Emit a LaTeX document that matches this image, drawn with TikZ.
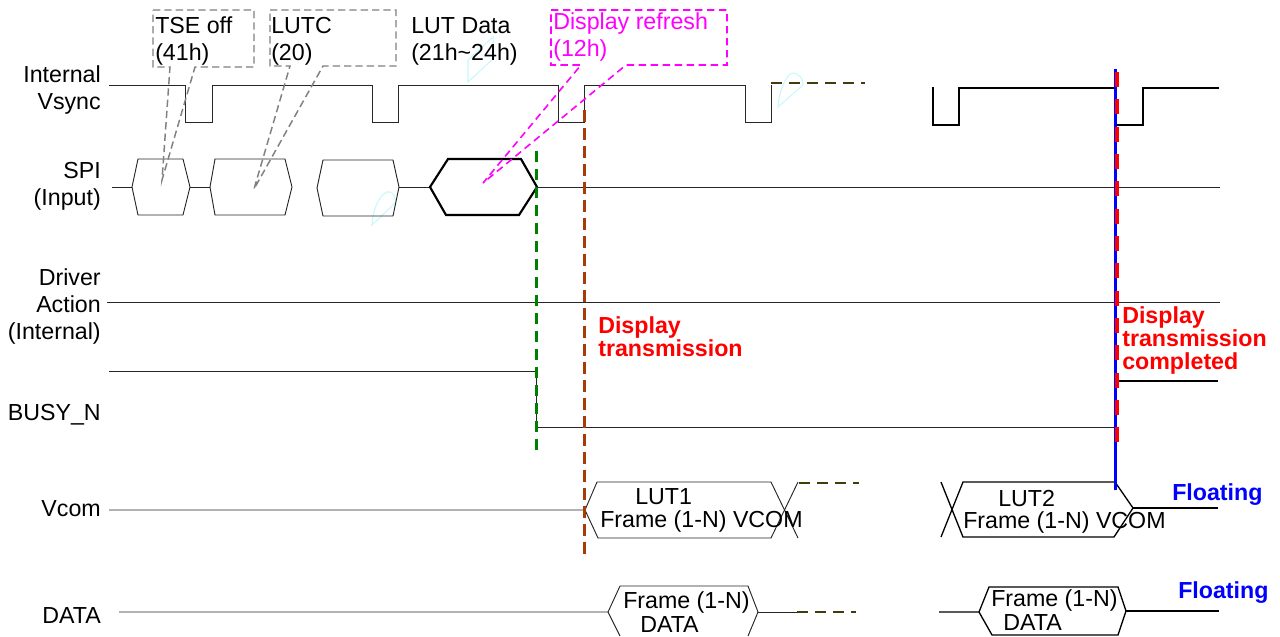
\documentclass[tikz,border=0pt]{standalone}
\usepackage{fontspec}
\setmainfont{Liberation Sans}
\definecolor{olivedash}{HTML}{403C0C}
\definecolor{markbrown}{HTML}{A63C06}
\definecolor{markgreen}{HTML}{008000}
\definecolor{stray}{HTML}{C8F8FC}
\definecolor{notepink}{HTML}{FF00FF}
\definecolor{fullblue}{HTML}{0000FF}
\definecolor{fullred}{HTML}{FF0000}
\tikzstyle{wave} = [draw=black!85, line width=0.7pt, line join=miter]
\tikzstyle{boldwave} = [draw=black, line width=1.3pt, line join=miter]
\tikzstyle{stopdash} = [draw=olivedash, line width=1.5pt, dash pattern=on 8pt off 5.5pt]
\tikzstyle{graynote} = [draw=black!50, line width=1.1pt, dash pattern=on 5.5pt off 3pt]
\tikzstyle{pinknote} = [draw=notepink, line width=1.2pt, dash pattern=on 5.5pt off 3.5pt]
\tikzstyle{strayleaf} = [draw=stray, line width=0.8pt]
\tikzstyle{lbl} = [inner sep=0pt, font=\fontsize{17.4}{20.25}\selectfont]
\tikzstyle{siglbl} = [lbl, anchor=east, align=right]
\tikzstyle{txtlbl} = [lbl, anchor=west, align=left]
\tikzstyle{redlbl} = [inner sep=0pt, anchor=west, align=left, text=fullred, font=\fontsize{17.4}{17.25}\selectfont\bfseries]
\tikzstyle{bluelbl} = [inner sep=0pt, anchor=west, text=fullblue, font=\fontsize{17.4}{17.25}\selectfont\bfseries]
\begin{document}
\begin{tikzpicture}[x=0.75pt,y=-0.75pt]
    \useasboundingbox (0,0) rectangle (1280,636);
    \draw[strayleaf] (468,82) -- (468,60) -- (493,37) -- (494,58) -- cycle;
    \draw[strayleaf] (372,225) .. controls (373,205) and (383,190) .. (390,192) .. controls (394,193) and (396,198) .. (395,203) -- cycle;
    \draw[strayleaf] (778,107) .. controls (779,90) and (787,73) .. (793,73) .. controls (799,73) and (804,80) .. (803,85) -- cycle;

    \draw[wave] (109,85) -- (185,85) -- (185,122) -- (212,122) -- (212,85) -- (372,85) -- (372,122) -- (398,122) -- (398,85) -- (558,85) -- (558,122) -- (584,122) -- (584,85) -- (745,85) -- (745,122) -- (771,122) -- (771,85);
    \draw[stopdash] (771,82.5) -- (865,82.5);
    \draw[boldwave] (933,87) -- (933,125) -- (959,125) -- (959,88) -- (1116,88);
    \draw[boldwave] (1117,125) -- (1143,125) -- (1143,88) -- (1219,88);

    \draw[wave] (112,187) -- (132,187);
    \draw[wave] (132,187) -- (138,159) -- (183,159) -- (190,187) -- (183,215) -- (138,215) -- cycle;
    \draw[wave] (190,187) -- (210,187);
    \draw[wave] (210,187) -- (215,159) -- (285,159) -- (292,187) -- (285,215) -- (215,215) -- cycle;
    \draw[wave] (317,188) -- (323,160) -- (393,160) -- (399,187) -- (393,216) -- (323,216) -- cycle;
    \draw[wave] (399,187) -- (430,187);
    \draw[boldwave, line width=1.6pt] (430,187) -- (448,159) -- (521,159) -- (537,187) -- (519,215) -- (446,215) -- cycle;
    \draw[wave] (537,187) -- (1220,187);

    \draw[wave] (107,302) -- (1220,302);
    \draw[wave] (109,371) -- (536,371) -- (536,427) -- (1115,427);
    \draw[boldwave] (1118,381) -- (1218,381);

    \draw[wave] (109,510) -- (585,510) -- (597,482) -- (771,482) -- (798,538);
    \draw[wave] (585,510) -- (598,538) -- (771,538) -- (798,482);
    \draw[stopdash] (799,483) -- (859,483);
    \draw[boldwave, line width=1pt] (941,482) -- (963,537) -- (1114,537) -- (1133,508);
    \draw[boldwave] (1133,508) -- (1218,508);
    \draw[boldwave, line width=1pt] (941,537) -- (963,482) -- (1115,482) -- (1133,508);

    \draw[wave] (119,612) -- (608,612) -- (620,586) -- (748,586) -- (758,612) -- (748,636);
    \draw[wave] (608,612) -- (620,636);
    \draw[wave] (758,612) -- (797,612);
    \draw[stopdash] (797,612) -- (856,612);
    \draw[boldwave, line width=1pt] (939,612) -- (979,612) -- (989,587) -- (1118,587) -- (1126,611) -- (1118,635) -- (992,635) -- (979,612);
    \draw[boldwave, line width=1pt] (1126,611) -- (1219,611);

    \draw[graynote] (153,10) -- (254,10) -- (254,67) -- (195,67) -- (162,180) -- (170,67) -- (153,67) -- cycle;
    \draw[graynote] (270,10) -- (396,10) -- (396,66) -- (323,66) -- (254,189) -- (290,66) -- (270,66) -- cycle;
    \draw[pinknote] (551,10) -- (727,10) -- (727,65) -- (626,65) -- (483,183) -- (581,65) -- (551,65) -- cycle;

    \draw[draw=markgreen, line width=2.25pt, dash pattern=on 8.5pt off 5pt] (536.5,151) -- (536.5,452);
    \draw[draw=markbrown, line width=2.25pt, dash pattern=on 9pt off 4.5pt] (584.5,110) -- (584.5,555);
    \draw[draw=fullblue, line width=2.25pt] (1115.5,69) -- (1115.5,490);
    \draw[draw=fullred, line width=3pt, dash pattern=on 11.25pt off 9.25pt] (1117,72) -- (1117,442);

    \node[siglbl] (vsynclbl) at (101,89.5) {Internal\\Vsync};
    \node[siglbl] (spilbl) at (101,186) {SPI\\(Input)};
    \node[siglbl] (driverlbl) at (101,306.5) {Driver\\Action\\(Internal)};
    \node[siglbl] (busylbl) at (101,415) {BUSY\_N};
    \node[siglbl] (vcomlbl) at (101,509) {Vcom};
    \node[siglbl] (datalbl) at (101,616) {DATA};

    \node[txtlbl] (tselbl) at (155,41) {TSE off\\(41h)};
    \node[txtlbl] (lutclbl) at (271,41) {LUTC\\(20)};
    \node[txtlbl] (lutdatalbl) at (411,41) {LUT Data\\(21h\textasciitilde 24h)};
    \node[txtlbl, text=notepink] (refreshlbl) at (553,37) {Display refresh\\(12h)};

    \node[txtlbl] (lutonelbl) at (635,497) {LUT1};
    \node[txtlbl] (frameonelbl) at (600,521.5) {Frame (1-N) VCOM};
    \node[txtlbl] (luttwolbl) at (998,499) {LUT2};
    \node[txtlbl] (frametwolbl) at (963,522.5) {Frame (1-N) VCOM};
    \node[txtlbl] (dataonelbl) at (623,602.5) {Frame (1-N)};
    \node[txtlbl] (dataonebot) at (640,625) {DATA};
    \node[txtlbl] (datatwolbl) at (991,600.5) {Frame (1-N)};
    \node[txtlbl] (datatwobot) at (1003,623) {DATA};

    \node[redlbl] (translbl) at (598,336.5) {Display\\transmission};
    \node[redlbl] (donelbl) at (1122,340) {Display\\transmission\\completed};
    \node[bluelbl] (floatone) at (1172,494.5) {Floating};
    \node[bluelbl] (floattwo) at (1178,592.5) {Floating};
\end{tikzpicture}
\end{document}
